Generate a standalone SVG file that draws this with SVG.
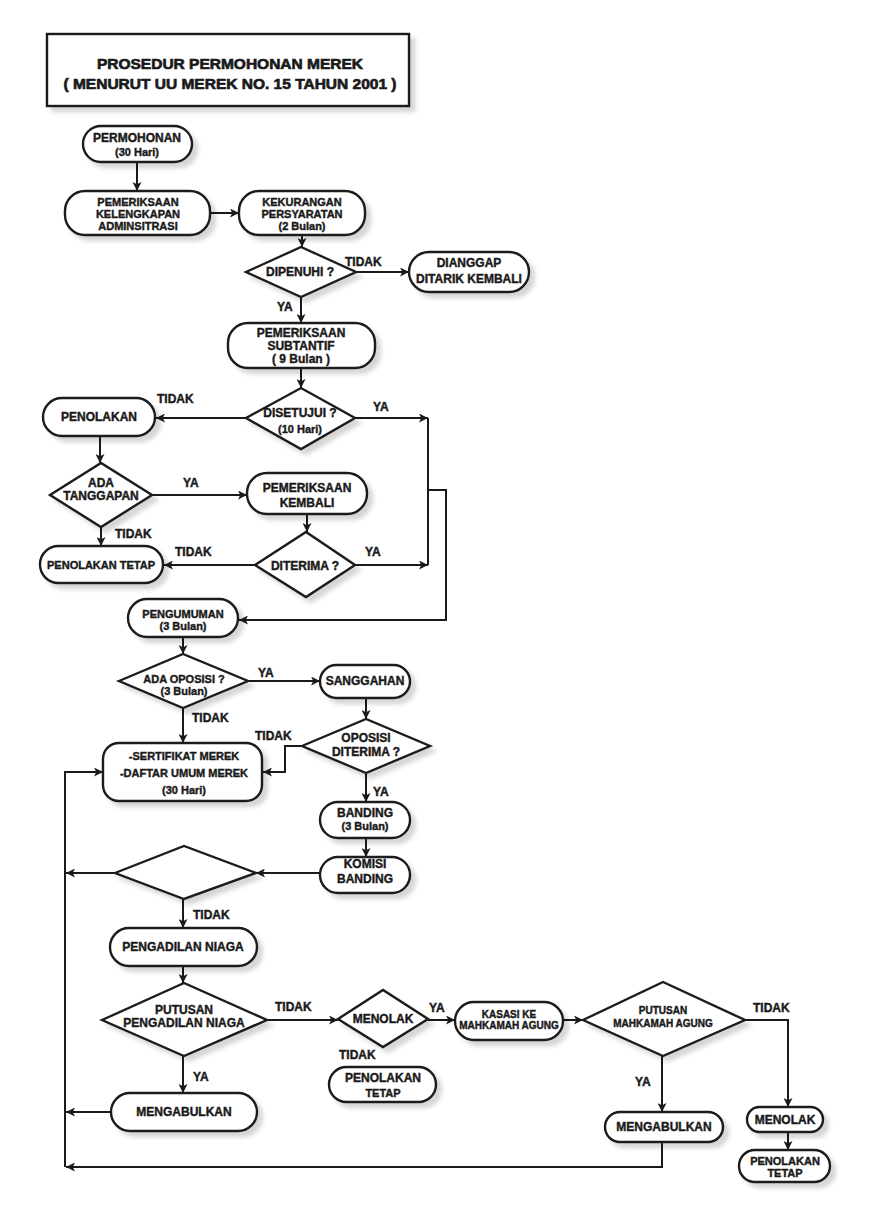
<svg xmlns="http://www.w3.org/2000/svg" width="872" height="1208" viewBox="0 0 872 1208">
<style>
.n{fill:#fff;stroke:#1a1a1a;stroke-width:2.4;filter:url(#sh)}
.c{fill:none;stroke:#1a1a1a;stroke-width:2}
.a{marker-end:url(#ah)}
text{font-family:"Liberation Sans",Arial,Helvetica,sans-serif;font-weight:bold;fill:#1a1a1a;stroke:#1a1a1a;stroke-width:0.4;text-anchor:middle;font-size:12px}
.s{font-size:11px}
.xs{font-size:10px}
.l{text-anchor:start;font-size:12px}
.t{font-size:15.5px;stroke-width:0.7}
</style>
<defs>
<filter id="sh" x="-10%" y="-10%" width="130%" height="140%">
<feDropShadow dx="5" dy="5" stdDeviation="2" flood-color="#000" flood-opacity="0.16"/>
</filter>
<marker id="ah" viewBox="0 0 10 10" refX="10" refY="5" markerWidth="11" markerHeight="9" markerUnits="userSpaceOnUse" orient="auto">
<path d="M0,0 L10,5 L0,10 L2.5,5 z" fill="#1a1a1a"/>
</marker>
</defs>
<rect width="872" height="1208" fill="#fff"/>

<g id="title">
<rect class="n" x="47" y="34" width="362" height="72"/>
<text class="t" x="230" y="68.5">PROSEDUR PERMOHONAN MEREK</text>
<text class="t" x="230" y="89">( MENURUT UU MEREK NO. 15 TAHUN 2001 )</text>
</g>

<g id="connectors">
<path class="c a" d="M137,162 V191"/>
<path class="c a" d="M210,213 H239"/>
<path class="c a" d="M302,235 V247"/>
<path class="c a" d="M356,272 H409"/>
<path class="c a" d="M301,297 V323"/>
<path class="c a" d="M301,368 V388"/>
<path class="c a" d="M246,418 H156"/>
<path class="c a" d="M355,418 H428"/>
<path class="c a" d="M100,436 V463"/>
<path class="c a" d="M152,495 H247"/>
<path class="c a" d="M307,514 V532"/>
<path class="c a" d="M255,565 H164"/>
<path class="c a" d="M355,565 H428"/>
<path class="c a" d="M101,527 V546"/>
<path class="c" d="M428,418 V565"/>
<path class="c a" d="M428,490 H446 V620 H239"/>
<path class="c a" d="M183,637 V654"/>
<path class="c a" d="M248,681 H320"/>
<path class="c a" d="M366,698 V719"/>
<path class="c a" d="M302,746 H285 V772 H263"/>
<path class="c a" d="M183,708 V743"/>
<path class="c a" d="M366,773 V802"/>
<path class="c a" d="M366,838 V857"/>
<path class="c a" d="M320,873 H256"/>
<path class="c a" d="M115,873 H66"/>
<path class="c a" d="M183,899 V928"/>
<path class="c a" d="M183,966 V983"/>
<path class="c a" d="M267,1020 H338"/>
<path class="c a" d="M428,1020 H455"/>
<path class="c a" d="M563,1020 H583"/>
<path class="c a" d="M745,1020 H788 V1107"/>
<path class="c a" d="M788,1132 V1150"/>
<path class="c a" d="M662,1056 V1112"/>
<path class="c a" d="M662,1142 V1167 H66"/>
<path class="c a" d="M183,1056 V1093"/>
<path class="c a" d="M111,1112 H66"/>
<path class="c a" d="M65,1167 V772 H103"/>
</g>

<g id="edge-labels">
<text class="l" x="345" y="266">TIDAK</text>
<text class="l" x="277" y="311">YA</text>
<text class="l" x="157" y="403">TIDAK</text>
<text class="l" x="373" y="411">YA</text>
<text class="l" x="183" y="487">YA</text>
<text class="l" x="115" y="538">TIDAK</text>
<text class="l" x="175" y="556">TIDAK</text>
<text class="l" x="365" y="556">YA</text>
<text class="l" x="258" y="677">YA</text>
<text class="l" x="192" y="722">TIDAK</text>
<text class="l" x="255" y="740">TIDAK</text>
<text class="l" x="373" y="796">YA</text>
<text class="l" x="193" y="919">TIDAK</text>
<text class="l" x="275" y="1011">TIDAK</text>
<text class="l" x="429" y="1012">YA</text>
<text class="l" x="339" y="1059">TIDAK</text>
<text class="l" x="753" y="1012">TIDAK</text>
<text class="l" x="635" y="1086">YA</text>
<text class="l" x="193" y="1081">YA</text>
</g>

<g id="permohonan">
<rect class="n" x="83" y="126" width="109" height="36" rx="18"/>
<text x="137" y="142">PERMOHONAN</text>
<text class="s" x="137" y="156">(30 Hari)</text>
</g>
<g id="pemeriksaan-kelengkapan">
<rect class="n" x="65" y="191" width="145" height="44" rx="20"/>
<text class="s" x="138" y="205.5">PEMERIKSAAN</text>
<text class="s" x="138" y="217.5">KELENGKAPAN</text>
<text class="s" x="138" y="229.5">ADMINSITRASI</text>
</g>
<g id="kekurangan">
<rect class="n" x="239" y="191" width="126" height="44" rx="20"/>
<text class="s" x="302" y="205.5">KEKURANGAN</text>
<text class="s" x="302" y="217.5">PERSYARATAN</text>
<text class="s" x="302" y="229.5">(2 Bulan)</text>
</g>
<g id="dipenuhi">
<polygon class="n" points="246,272 301,247 356,272 301,297"/>
<text x="300" y="276">DIPENUHI ?</text>
</g>
<g id="dianggap">
<rect class="n" x="409" y="252" width="120" height="40" rx="20"/>
<text x="469" y="267">DIANGGAP</text>
<text x="469" y="283">DITARIK KEMBALI</text>
</g>
<g id="substantif">
<rect class="n" x="228" y="323" width="147" height="45" rx="20"/>
<text x="301" y="337">PEMERIKSAAN</text>
<text x="301" y="350">SUBTANTIF</text>
<text x="301" y="363">( 9 Bulan )</text>
</g>
<g id="disetujui">
<polygon class="n" points="246,418 301,388 355,418 301,449"/>
<text x="300" y="417">DISETUJUI ?</text>
<text class="s" x="300" y="433">(10 Hari)</text>
</g>
<g id="penolakan">
<rect class="n" x="43" y="398" width="112" height="38" rx="19"/>
<text x="99" y="421">PENOLAKAN</text>
</g>
<g id="ada-tanggapan">
<polygon class="n" points="50,495 101,463 152,495 101,527"/>
<text x="101" y="487">ADA</text>
<text x="101" y="500">TANGGAPAN</text>
</g>
<g id="pemeriksaan-kembali">
<rect class="n" x="247" y="473" width="120" height="41" rx="20"/>
<text x="307" y="492">PEMERIKSAAN</text>
<text x="307" y="507">KEMBALI</text>
</g>
<g id="diterima">
<polygon class="n" points="255,565 306,532 355,565 306,597"/>
<text x="305" y="570">DITERIMA ?</text>
</g>
<g id="penolakan-tetap-1">
<rect class="n" x="40" y="546" width="123" height="37" rx="18.5"/>
<text class="s" x="101" y="569">PENOLAKAN TETAP</text>
</g>
<g id="pengumuman">
<rect class="n" x="128" y="599" width="110" height="38" rx="19"/>
<text class="s" x="183" y="617.5">PENGUMUMAN</text>
<text class="s" x="183" y="630">(3 Bulan)</text>
</g>
<g id="ada-oposisi">
<polygon class="n" points="119,681 183,654 248,681 183,708"/>
<text class="s" x="184" y="682.5">ADA OPOSISI ?</text>
<text class="s" x="184" y="694.5">(3 Bulan)</text>
</g>
<g id="sanggahan">
<rect class="n" x="320" y="665" width="90" height="33" rx="16.5"/>
<text x="365" y="685">SANGGAHAN</text>
</g>
<g id="oposisi-diterima">
<polygon class="n" points="302,746 366,719 430,746 366,773"/>
<text x="366" y="742">OPOSISI</text>
<text x="366" y="756">DITERIMA ?</text>
</g>
<g id="sertifikat">
<rect class="n" x="103" y="743" width="159" height="58" rx="16"/>
<text class="s" x="184" y="760">-SERTIFIKAT MEREK</text>
<text class="s" x="184" y="777">-DAFTAR UMUM MEREK</text>
<text class="s" x="184" y="794">(30 Hari)</text>
</g>
<g id="banding">
<rect class="n" x="320" y="802" width="90" height="36" rx="18"/>
<text x="365" y="817">BANDING</text>
<text class="s" x="365" y="830">(3 Bulan)</text>
</g>
<g id="komisi-banding">
<rect class="n" x="320" y="857" width="90" height="36" rx="18"/>
<text x="365" y="868">KOMISI</text>
<text x="365" y="883">BANDING</text>
</g>
<g id="keputusan-banding">
<polygon class="n" points="115,873 184,846 256,873 184,899"/>
</g>
<g id="pengadilan-niaga">
<rect class="n" x="110" y="928" width="147" height="38" rx="19"/>
<text x="183" y="951">PENGADILAN NIAGA</text>
</g>
<g id="putusan-pengadilan">
<polygon class="n" points="102,1020 184,983 267,1020 184,1056"/>
<text x="184" y="1014">PUTUSAN</text>
<text x="184" y="1027">PENGADILAN NIAGA</text>
</g>
<g id="menolak-1">
<polygon class="n" points="338,1019 383,990 428,1019 383,1047"/>
<text x="383" y="1023">MENOLAK</text>
</g>
<g id="penolakan-tetap-2">
<rect class="n" x="329" y="1067" width="107" height="35" rx="17.5"/>
<text x="383" y="1082">PENOLAKAN</text>
<text class="s" x="383" y="1097">TETAP</text>
</g>
<g id="kasasi">
<rect class="n" x="455" y="1002" width="108" height="38" rx="19"/>
<text class="xs" x="509" y="1018">KASASI KE</text>
<text class="xs" x="509" y="1029">MAHKAMAH AGUNG</text>
</g>
<g id="putusan-ma">
<polygon class="n" points="583,1020 663,982 745,1020 663,1056"/>
<text class="xs" x="663" y="1014">PUTUSAN</text>
<text class="xs" x="663" y="1027">MAHKAMAH AGUNG</text>
</g>
<g id="menolak-2">
<rect class="n" x="747" y="1107" width="76" height="25" rx="12.5"/>
<text x="785" y="1124">MENOLAK</text>
</g>
<g id="penolakan-tetap-3">
<rect class="n" x="739" y="1150" width="91" height="32" rx="16"/>
<text class="s" x="785" y="1165">PENOLAKAN</text>
<text class="s" x="785" y="1177">TETAP</text>
</g>
<g id="mengabulkan-2">
<rect class="n" x="605" y="1112" width="118" height="30" rx="15"/>
<text x="664" y="1131">MENGABULKAN</text>
</g>
<g id="mengabulkan-1">
<rect class="n" x="111" y="1093" width="146" height="38" rx="19"/>
<text x="184" y="1116">MENGABULKAN</text>
</g>
</svg>
